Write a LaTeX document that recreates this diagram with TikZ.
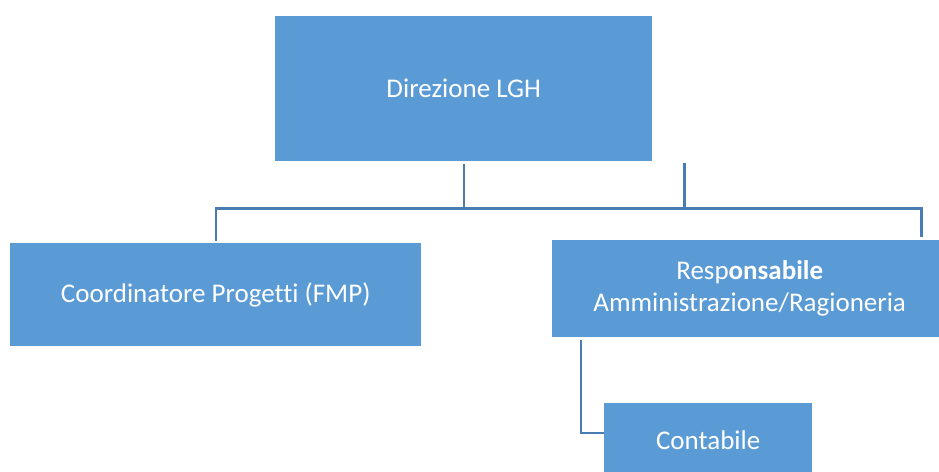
\documentclass[tikz,border=0pt]{standalone}
\usepackage{fontspec}
\setmainfont[Ligatures=NoCommon]{Carlito}
\definecolor{boxblue}{RGB}{91,155,213}
\definecolor{lineblue}{RGB}{72,124,178}
\begin{document}
\begin{tikzpicture}[x=1pt,y=-1pt,
  orgbox/.style={rectangle, fill=boxblue, draw=none, anchor=north west, inner sep=0pt,
    text=white, align=center, font=\fontsize{27}{32}\selectfont},
  conn/.style={draw=lineblue, line width=2.2pt}]
\useasboundingbox (0,0) rectangle (939,471);
\fill[white] (0,0) rectangle (939,471);
\clip (0,0) rectangle (939,471);
\node[orgbox, minimum width=377pt, minimum height=145pt] (dir) at (275,16) {Direzione LGH};
\node[orgbox, minimum width=411pt, minimum height=103pt] (coord) at (10,243) {Coordinatore Progetti (FMP)};
\node[orgbox, minimum width=395pt, minimum height=97pt] (resp) at (552,240) {Resp\textbf{onsabile}\\Amministrazione/Ragioneria};
\node[orgbox, minimum width=208pt, minimum height=74pt] (cont) at (604,403) {Contabile};
\coordinate (d1) at ([yshift=-3pt]dir.south);
\coordinate (d2) at ([xshift=32pt,yshift=-2pt]dir.south east);
\coordinate (c1) at ([yshift=2pt]coord.north);
\coordinate (r1) at ([xshift=-26pt,yshift=3pt]resp.north east);
\draw[conn] (d1) -- ++(0,44) -| (r1);
\draw[conn] (d2) -- ++(0,45) -| (c1);
\draw[conn] ([xshift=29pt,yshift=-3pt]resp.south west) |- ([yshift=7pt]cont.west);
\end{tikzpicture}
\end{document}
